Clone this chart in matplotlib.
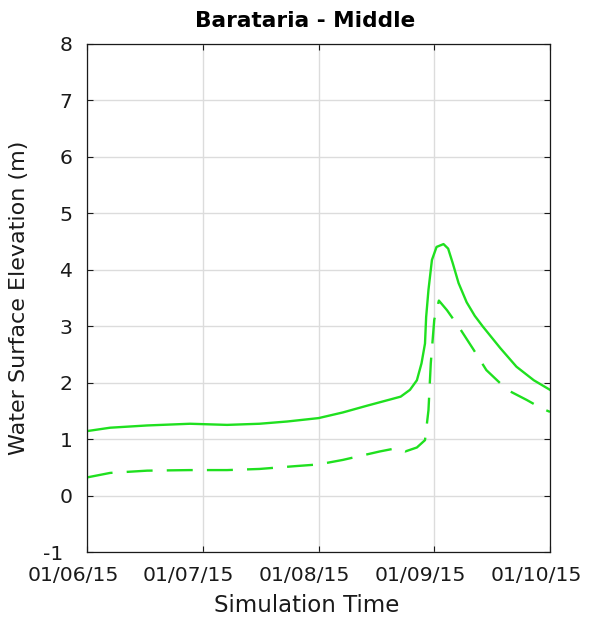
import numpy as np
import matplotlib
matplotlib.use('Agg')
import matplotlib.pyplot as plt
from matplotlib.transforms import ScaledTranslation

plt.rcParams['font.family'] = ['DejaVu Sans']
plt.rcParams['axes.unicode_minus'] = False

# time in days from the start of the run
t_solid = [0.0, 0.2, 0.52, 0.89, 1.21, 1.49, 1.73, 2.0, 2.21, 2.42, 2.62, 2.71,
           2.79, 2.85, 2.89, 2.92, 2.93, 2.95, 2.98, 3.02, 3.08, 3.12, 3.16,
           3.21, 3.28, 3.35, 3.42, 3.57, 3.71, 3.86, 4.0]
wse_solid = [1.14, 1.2, 1.24, 1.27, 1.25, 1.27, 1.31, 1.37, 1.47, 1.59, 1.7, 1.75,
             1.87, 2.04, 2.34, 2.69, 3.16, 3.64, 4.17, 4.4, 4.45, 4.37, 4.11,
             3.76, 3.42, 3.18, 2.99, 2.61, 2.28, 2.04, 1.87]

t_dash = [0.0, 0.2, 0.52, 0.89, 1.21, 1.49, 1.8, 2.0, 2.21, 2.53, 2.68, 2.75,
          2.85, 2.92, 2.95, 2.97, 3.0, 3.04, 3.11, 3.22, 3.34, 3.45, 3.63,
          3.8, 3.93, 4.0]
wse_dash = [0.32, 0.4, 0.44, 0.45, 0.45, 0.47, 0.52, 0.55, 0.63, 0.78, 0.84, 0.78,
            0.85, 0.98, 1.51, 2.34, 3.11, 3.45, 3.28, 2.96, 2.58, 2.22, 1.87,
            1.69, 1.54, 1.48]

xticklabels = ['01/06/15', '01/07/15', '01/08/15', '01/09/15', '01/10/15']
green = '#1fe01f'
ink = '#1a1a1a'

fig = plt.figure(figsize=(5.89, 6.27), dpi=100)
ax = fig.add_axes([0.1477, 0.1196, 0.7861, 0.811])

ax.plot(t_solid, wse_solid, color=green, lw=1.7)
ax.plot(t_dash, wse_dash, color=green, lw=1.7, dashes=[11, 6])

ax.set_xlim(0, 4)
ax.set_ylim(-1, 8)
ax.set_xticks(np.arange(5))
ax.set_xticklabels(xticklabels)
ax.set_yticks(np.arange(-1, 9))

ax.grid(True, color='#dcdcdc', lw=1.0)
ax.set_axisbelow(True)
ax.tick_params(direction='in', length=4.5, width=0.8, top=True, right=True,
               labelsize=14.7, colors=ink)
ax.tick_params(axis='x', pad=10)
ax.tick_params(axis='y', pad=10.5)
for s in ax.spines.values():
    s.set_linewidth(0.9)
    s.set_color(ink)

# date labels sit a little left of their ticks
for lab in ax.get_xticklabels():
    lab.set_transform(lab.get_transform() + ScaledTranslation(-0.14, 0, fig.dpi_scale_trans))
ylabs = ax.get_yticklabels()
ylabs[0].set_transform(ylabs[0].get_transform() + ScaledTranslation(-0.09, 0, fig.dpi_scale_trans))

fig.text(0.518, 0.967, 'Barataria - Middle', fontsize=15.6, fontweight='bold',
         ha='center', va='center', color='black')
fig.text(0.520, 0.034, 'Simulation Time', fontsize=16.5, ha='center', va='center', color=ink)
fig.text(0.032, 0.525, 'Water Surface Elevation (m)', fontsize=16, rotation=90,
         ha='center', va='center', color=ink)

fig.savefig('out.png', dpi=100)
